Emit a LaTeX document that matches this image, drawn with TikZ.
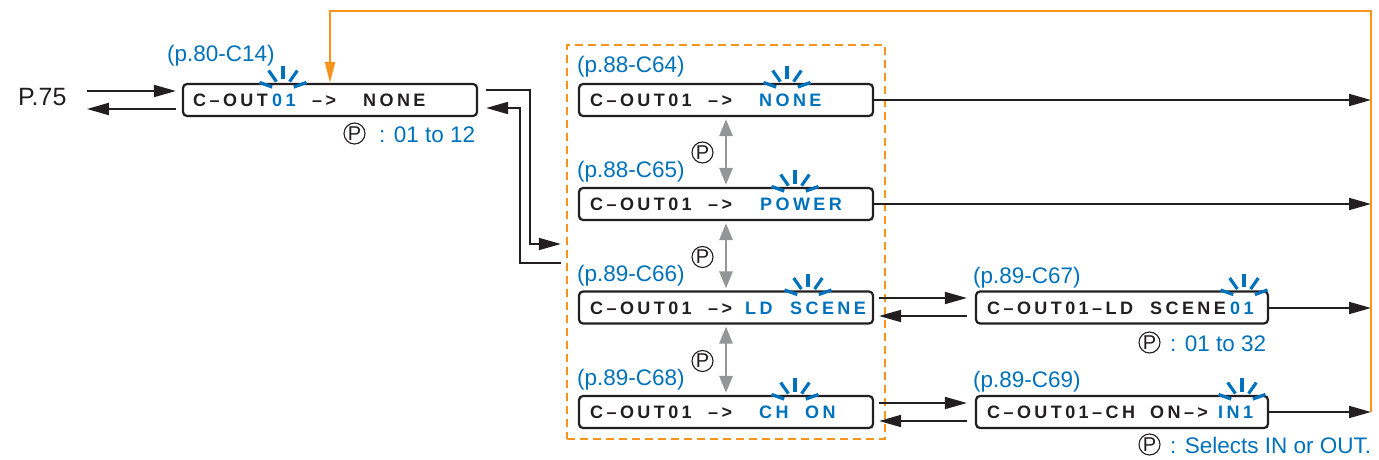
\documentclass[tikz,border=0pt]{standalone}
\usepackage{fontspec}
\setmainfont{Liberation Sans}
\newfontfamily\lcdfont{Liberation Sans}[LetterSpace=19]
\usetikzlibrary{arrows.meta,calc}
\definecolor{ink}{RGB}{35,31,32}
\definecolor{cblue}{RGB}{0,114,188}
\definecolor{corange}{RGB}{247,148,30}
\definecolor{cgray}{RGB}{147,149,152}
\tikzset{
  lcd/.style={font=\lcdfont\bfseries\fontsize{18}{18}\selectfont, inner sep=0pt, anchor=base west, text=ink},
  lcdb/.style={lcd, text=cblue},
  lbl/.style={font=\fontsize{22.5}{22.5}\selectfont, text=cblue, inner sep=0pt, anchor=base west},
  lcdbox/.style={draw=ink, line width=2.2pt, rounded corners=4pt, minimum height=32pt, inner sep=0pt},
  arr/.style={draw=ink, line width=1.9pt, -{Triangle[length=22pt,width=12pt]}},
  garr/.style={draw=cgray, line width=2.8pt, {Triangle[length=17pt,width=13pt]}-{Triangle[length=17pt,width=13pt]}},
  oline/.style={draw=corange, line width=2.4pt},
  pcirc/.style={draw=ink, circle, line width=1.1pt, minimum size=21pt, inner sep=0pt, font=\fontsize{20}{20}\selectfont, text=ink},
  blink/.pic={\foreach \a in {20,55,90,125,160}{\draw[cblue,line width=3.2pt] (-\a:11.5) -- (-\a:25);}}
}
\begin{document}
\begin{tikzpicture}[x=1pt,y=-1pt]
\useasboundingbox (0,0) rectangle (1379,460);

% group box
\node[draw=corange, line width=2.4pt, dash pattern=on 8pt off 5pt, minimum width=318pt, minimum height=394pt, inner sep=0pt] (grp) at (726,242) {};

% boxes
\node[lcdbox, minimum width=294pt] (c14) at (330,100) {};
\node[lcdbox, minimum width=294pt] (c64) at (726,100) {};
\node[lcdbox, minimum width=294pt] (c65) at (726,204) {};
\node[lcdbox, minimum width=294pt] (c66) at (726,307.5) {};
\node[lcdbox, minimum width=294pt] (c68) at (726,412) {};
\node[lcdbox, minimum width=292pt] (c67) at (1122,307.5) {};
\node[lcdbox, minimum width=292pt] (c69) at (1122,412) {};

% box texts
\node[lcd]  (t14a) at (193,106.5) {C–OUT};
\node[lcdb] (t14b) at (272,106.5) {01};
\node[lcd]  (t14c) at (312,106.5) {–>};
\node[lcd]  (t14d) at (363,106.5) {NONE};

\node[lcd]  (t64a) at (590,106.5) {C–OUT01};
\node[lcd]  (t64b) at (708,106.5) {–>};
\node[lcdb] (t64c) at (759,106.5) {NONE};

\node[lcd]  (t65a) at (590,210.5) {C–OUT01};
\node[lcd]  (t65b) at (708,210.5) {–>};
\node[lcdb] (t65c) at (760,210.5) {POWER};

\node[lcd]  (t66a) at (590,314) {C–OUT01};
\node[lcd]  (t66b) at (708,314) {–>};
\node[lcdb] (t66c) at (745,314) {LD};
\node[lcdb] (t66d) at (790,314) {SCENE};

\node[lcd]  (t68a) at (590,418.5) {C–OUT01};
\node[lcd]  (t68b) at (708,418.5) {–>};
\node[lcdb] (t68c) at (759,418.5) {CH};
\node[lcdb] (t68d) at (805,418.5) {ON};

\node[lcd]  (t67a) at (987,314) {C–OUT01–LD};
\node[lcd]  (t67c) at (1150,314) {SCENE};
\node[lcdb] (t67b) at (1230,314) {01};

\node[lcd]  (t69a) at (987,418.5) {C–OUT01–CH};
\node[lcd]  (t69c) at (1150,418.5) {ON–>};
\node[lcdb] (t69b) at (1218,418.5) {IN1};

% blinks
\pic at (283,91) {blink};
\pic at (787,91) {blink};
\pic at (795,195) {blink};
\pic at (808,298.5) {blink};
\pic at (795,403) {blink};
\pic at (1244,298.5) {blink};
\pic at (1242,403) {blink};

% labels
\node[lbl] (l14) at (167,62) {(p.80-C14)};
\node[lbl] (l64) at (577,72.5) {(p.88-C64)};
\node[lbl] (l65) at (577,177) {(p.88-C65)};
\node[lbl] (l66) at (577,281) {(p.89-C66)};
\node[lbl] (l68) at (577,385) {(p.89-C68)};
\node[lbl] (l67) at (973,283) {(p.89-C67)};
\node[lbl] (l69) at (973,387) {(p.89-C69)};

% legends
\node[pcirc] (p14) at (354.5,133.5) {P};
\node[lbl] (g14) at (379,142) {: 01 to 12};
\node[pcirc] (p67) at (1149.5,342.5) {P};
\node[lbl] (g67) at (1170,351) {: 01 to 32};
\node[pcirc] (p69) at (1149.5,444.5) {P};
\node[lbl] (g69) at (1170,453) {: Selects IN or OUT.};

\node[pcirc] (pa) at (702.5,152.5) {P};
\node[pcirc] (pb) at (702.5,257) {P};
\node[pcirc] (pc) at (702.5,361) {P};

% P.75
\node[font=\fontsize{25}{25}\selectfont, text=ink, inner sep=0pt, anchor=base west] (p75) at (18,106) {P.75};

% coordinates
\coordinate (otop) at (1371,11);

% P.75 arrows
\draw[arr] ($(c14.west)+(-95,-9)$) -- ($(c14.west)+(-6,-9)$);
\draw[arr] ($(c14.west)+(-6,9)$) -- ($(c14.west)+(-95,9)$);

% C14 <-> group
\draw[arr] ($(c14.east)+(8,-10)$) -- ($(c14.east)+(52,-10)$) |- ($(grp.west)+(-5,2)$);
\draw[arr] ($(grp.west)+(-5,21)$) -| ($(c14.east)+(42,8)$) -- ($(c14.east)+(8,8)$);

% gray double arrows
\draw[garr] ([yshift=-2pt]c64.south) -- ([yshift=2pt]c65.north);
\draw[garr] ([yshift=-2pt]c65.south) -- ([yshift=2pt]c66.north);
\draw[garr] ([yshift=-2pt]c66.south) -- ([yshift=2pt]c68.north);

% side connections
\draw[arr] ($(c66.east)+(5,-9.5)$) -- ($(c67.west)+(-8,-9.5)$);
\draw[arr] ($(c67.west)+(-8,8.5)$) -- ($(c66.east)+(5,8.5)$);
\draw[arr] ($(c68.east)+(5,-9)$) -- ($(c69.west)+(-8,-9)$);
\draw[arr] ($(c69.west)+(-8,9)$) -- ($(c68.east)+(5,9)$);

% right arrows
\draw[arr] (c64.east) -- (c64.east -| otop);
\draw[arr] (c65.east) -- (c65.east -| otop);
\draw[arr] ([yshift=-0.5pt]c67.east) -- ([yshift=-0.5pt]c67.east -| otop);
\draw[arr] (c69.east) -- (c69.east -| otop);

% orange loop
\draw[oline, -{Triangle[length=21pt,width=10pt]}] (c69.east -| otop) -- (otop) -- (otop -| c14.north) -- (c14.north);
\end{tikzpicture}
\end{document}
